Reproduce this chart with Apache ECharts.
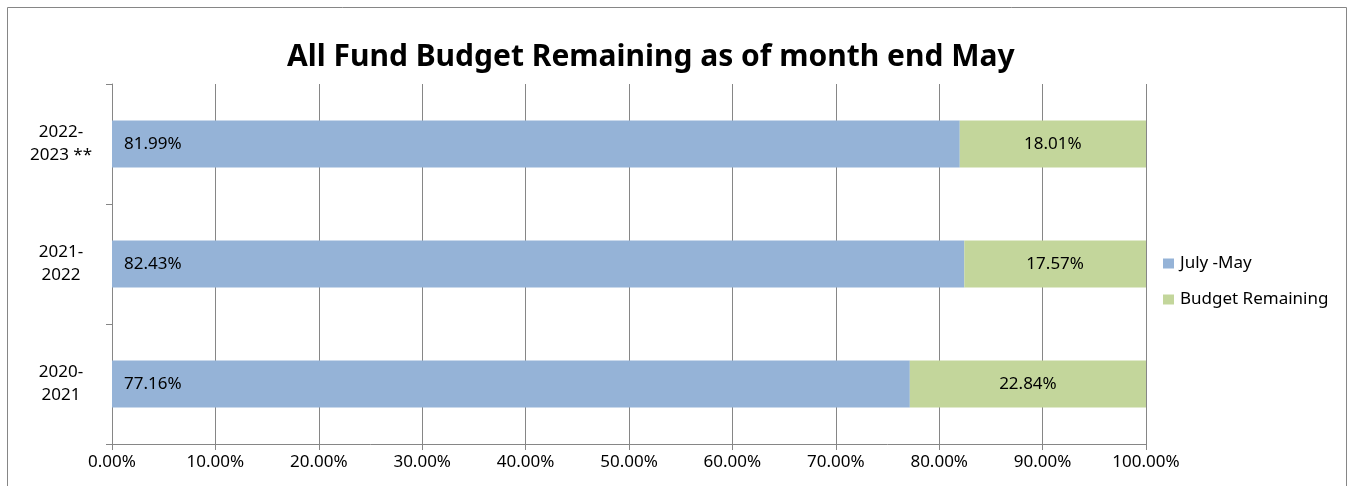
<!DOCTYPE html>
<html><head><meta charset="utf-8">
<script src="https://cdn.jsdelivr.net/npm/echarts@6/dist/echarts.min.js"></script>
<style>html,body{margin:0;padding:0;background:#fff;}#c{width:1349px;height:486px;}</style>
</head><body><div id="c"></div>
<script>
const title = 'All Fund Budget Remaining as of month end May';
const categories = ['2022-\n2023 **', '2021-\n2022', '2020-\n2021'];
const seriesNames = ['July -May', 'Budget Remaining'];
const julyMay = [0.8199, 0.8243, 0.7716];
const remaining = [0.1801, 0.1757, 0.2284];
const xTicks = [0, 0.1, 0.2, 0.3, 0.4, 0.5, 0.6, 0.7, 0.8, 0.9, 1.0];

const FONT = 'Noto Sans';
const GRAY = '#868686';
const pct = v => (v * 100).toFixed(2) + '%';
const chart = echarts.init(document.getElementById('c'), null, {renderer: 'canvas'});
chart.setOption({
  animation: false,
  textStyle: {fontFamily: FONT},
  title: {text: title, left: 287, top: 42, padding: 0, textStyle: {fontFamily: FONT, fontSize: 30, fontWeight: 'bold', color: '#000'}},
  graphic: [{type: 'rect', shape: {x: 7.5, y: 7.5, width: 1339, height: 520}, style: {fill: 'none', stroke: GRAY, lineWidth: 1}, silent: true}],
  legend: {
    orient: 'vertical', left: 1163, top: 255, itemWidth: 11, itemHeight: 10, itemGap: 19, padding: 0,
    icon: 'rect', data: seriesNames,
    textStyle: {fontFamily: FONT, fontSize: 17, color: '#000', padding: [0, 0, 0, 1]}
  },
  grid: {left: 112, right: 203, top: 84, bottom: 42, containLabel: false},
  xAxis: {
    type: 'value', min: 0, max: 1, interval: 0.1,
    axisLine: {show: true, lineStyle: {color: GRAY, width: 1}},
    axisTick: {show: true, length: 6, lineStyle: {color: GRAY}},
    splitLine: {show: true, lineStyle: {color: GRAY, width: 1}},
    axisLabel: {formatter: v => pct(v), fontFamily: FONT, fontSize: 17, color: '#000', margin: 10, showMaxLabel: true, showMinLabel: true}
  },
  yAxis: {
    type: 'category', data: categories, inverse: true,
    axisLine: {show: true, lineStyle: {color: GRAY, width: 1}},
    axisTick: {show: true, length: 6, lineStyle: {color: GRAY}},
    axisLabel: {fontFamily: FONT, fontSize: 17, color: '#000', align: 'center', margin: 51, lineHeight: 23}
  },
  series: [
    {name: seriesNames[0], type: 'bar', stack: 'a', data: julyMay, barWidth: 47,
     itemStyle: {color: '#95B3D7'},
     label: {show: true, position: 'insideLeft', distance: 12, formatter: p => pct(p.value), fontFamily: FONT, fontSize: 17, color: '#000'}},
    {name: seriesNames[1], type: 'bar', stack: 'a', data: remaining, barWidth: 47,
     itemStyle: {color: '#C3D69B'},
     label: {show: true, position: 'inside', formatter: p => pct(p.value), fontFamily: FONT, fontSize: 17, color: '#000'}}
  ]
});
</script></body></html>
